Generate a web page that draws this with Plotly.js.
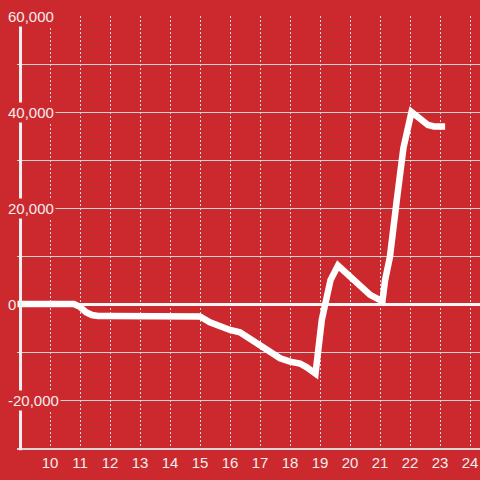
<!DOCTYPE html>
<html>
<head>
<meta charset="utf-8">
<script src="https://cdn.plot.ly/plotly-3.0.1.min.js"></script>
<style>html,body{margin:0;padding:0;background:#cc292e;}#chart{width:480px;height:480px;}</style>
</head>
<body>
<div id="chart"></div>
<script>
// Series values (x = day, y = value)
var xValues = [8.9, 10.8, 11.0, 11.2, 11.4, 11.6, 12, 13, 14, 15.0, 15.33, 15.67, 16.0, 16.33, 16.67, 17.0, 17.33, 17.67, 18.0, 18.33, 18.56, 18.77, 18.85, 19.06, 19.25, 19.35, 19.6, 20.0, 20.33, 20.67, 21.0, 21.08, 21.17, 21.33, 21.56, 21.78, 22.05, 22.33, 22.6, 22.8, 23.17];
var yValues = [0, 0, -600, -1700, -2300, -2500, -2500, -2500, -2500, -2600, -3800, -4800, -5400, -5900, -7200, -8650, -10000, -11300, -12000, -12400, -13200, -14300, -14500, -3300, 2500, 5000, 8000, 5600, 3600, 1900, 800, 600, 5000, 9800, 21700, 32500, 40000, 38800, 37300, 37000, 37000];
// Tick labels
var xTickVals = [10, 11, 12, 13, 14, 15, 16, 17, 18, 19, 20, 21, 22, 23, 24];
var yTickVals = [60000, 40000, 20000, 0, -20000];
var yTickText = ["60,000", "40,000", "20,000", "0", "-20,000"];

var bg = '#cc292e';
var labelColor = '#f2eeee';

var annotations = yTickVals.map(function (v, i) {
  return {
    xref: 'paper', yref: 'y',
    x: -0.0238, y: v,
    xanchor: 'left', yanchor: 'middle',
    text: yTickText[i], showarrow: false,
    bgcolor: bg, borderpad: 1,
    font: {family: 'Liberation Sans, Arial, sans-serif', size: 15, color: labelColor}
  };
});

var trace = {
  type: 'scatter', mode: 'lines',
  x: xValues, y: yValues,
  line: {color: '#ffffff', width: 6.5, shape: 'linear'},
  hoverinfo: 'skip'
};

var layout = {
  width: 480, height: 480,
  margin: {l: 17, r: 0, t: 16, b: 32},
  paper_bgcolor: bg, plot_bgcolor: bg,
  showlegend: false,
  font: {family: 'Liberation Sans, Arial, sans-serif', size: 15, color: labelColor},
  xaxis: {
    range: [8.9, 24.333],
    tickmode: 'array', tickvals: xTickVals,
    showgrid: true, gridcolor: '#dcdcdc', gridwidth: 1, griddash: '2px,2px',
    showline: true, linecolor: '#d6d6d6', linewidth: 2,
    zeroline: false, ticks: '',
    tickfont: {size: 15, color: labelColor}
  },
  yaxis: {
    range: [-30000, 60000],
    tickmode: 'linear', tick0: 0, dtick: 10000,
    showticklabels: false,
    showgrid: true, gridcolor: '#d3d3d3', gridwidth: 1,
    zeroline: true, zerolinecolor: '#f7f7f7', zerolinewidth: 3,
    showline: false, ticks: ''
  },
  shapes: [{
    type: 'line', xref: 'paper', yref: 'paper',
    x0: 0.0076, x1: 0.0076, y0: -0.005, y1: 1,
    line: {color: '#f0f0f0', width: 3},
    layer: 'above'
  }],
  annotations: annotations
};

Plotly.newPlot('chart', [trace], layout, {displayModeBar: false, staticPlot: true});
</script>
</body>
</html>
